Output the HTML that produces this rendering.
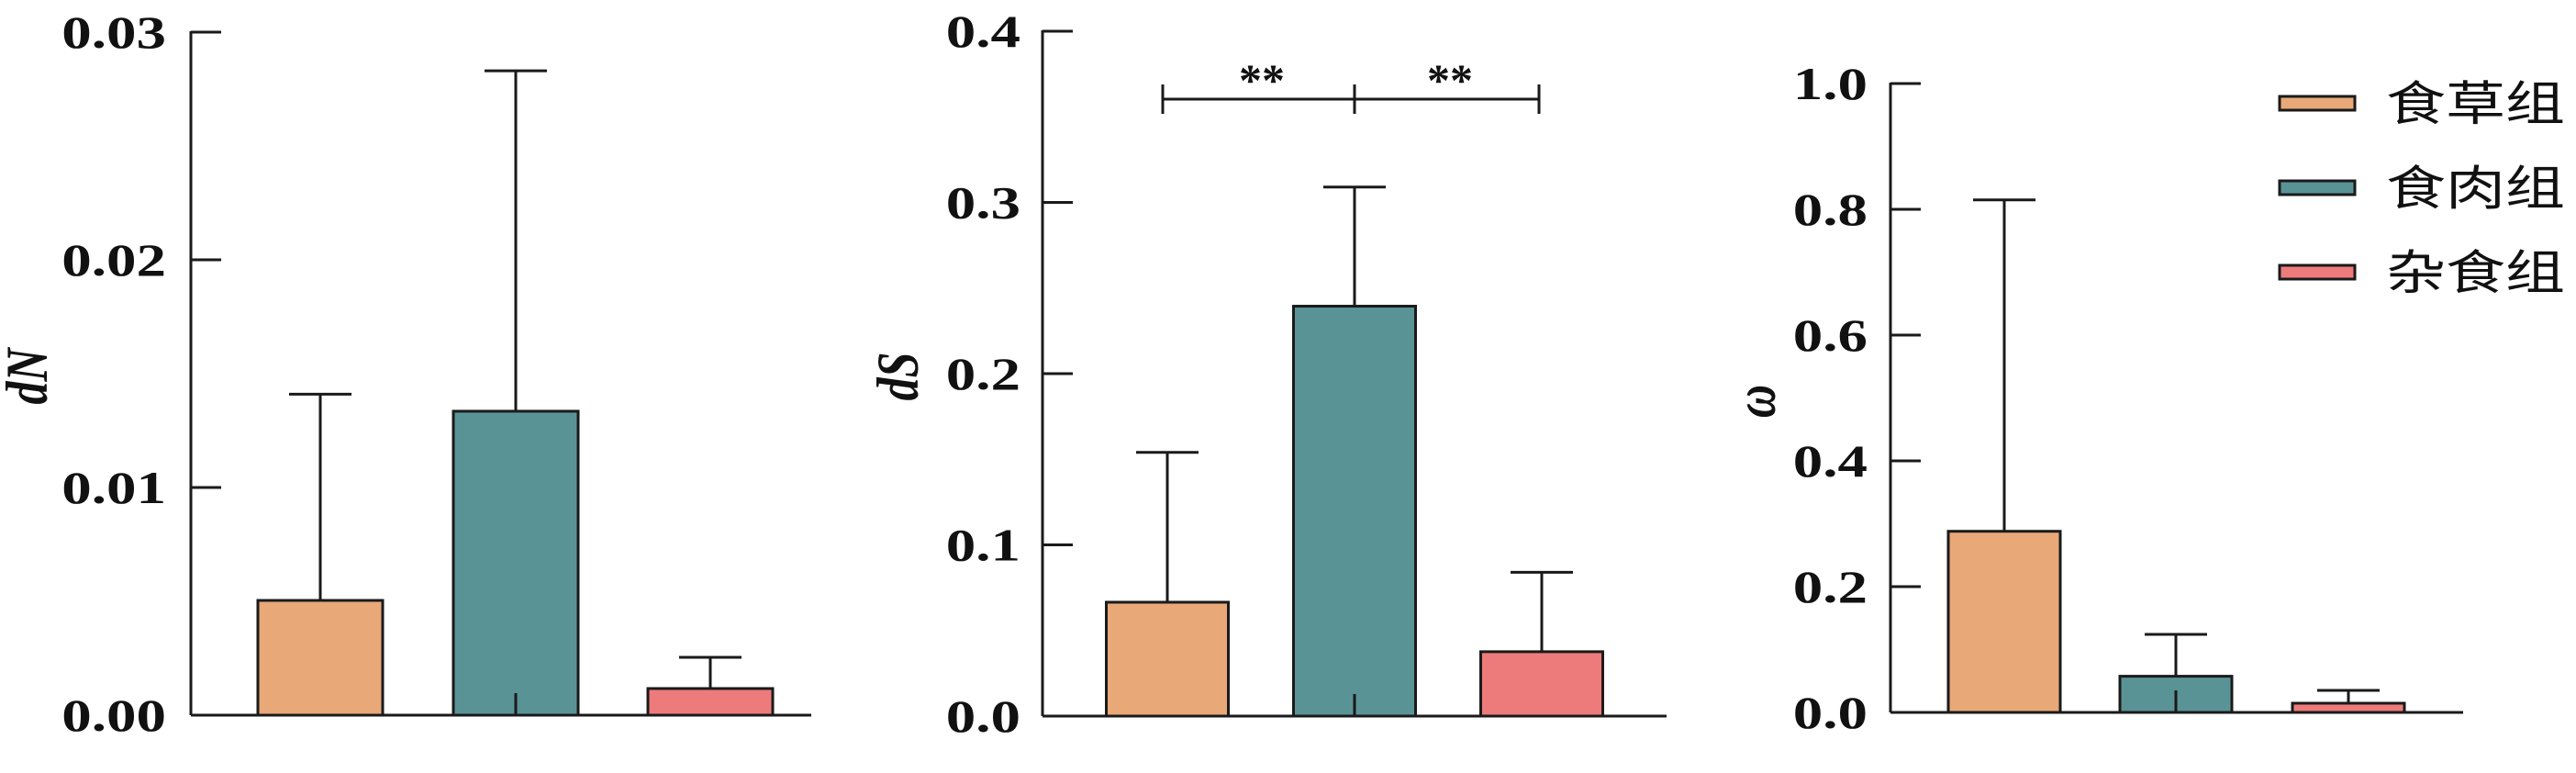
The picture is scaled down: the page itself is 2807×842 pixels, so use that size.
<!DOCTYPE html>
<html><head><meta charset="utf-8"><style>
html,body{margin:0;padding:0;background:#fff;}
svg{display:block;}
text{font-family:"Liberation Serif","Noto Serif CJK SC",serif;font-weight:bold;fill:#111;}
.cjk{font-family:"Liberation Sans","Noto Sans CJK SC",sans-serif;font-weight:normal;}
</style></head><body>
<svg id="chart" width="2807" height="842" viewBox="0 0 2807 842" xmlns="http://www.w3.org/2000/svg"></svg>
<script>
const categories = ["食草组","食肉组","杂食组"];
const colors = ["#E8A878","#5A9396","#EE7B7B"];
const dnValues = [0.00504, 0.01335, 0.00117];
const dnErrors = [0.0141, 0.0283, 0.00254];
const dnTicks = ["0.00","0.01","0.02","0.03"];
const dsValues = [0.0665, 0.2394, 0.0376];
const dsErrors = [0.154, 0.309, 0.084];
const dsTicks = ["0.0","0.1","0.2","0.3","0.4"];
const wValues = [0.288, 0.0575, 0.0146];
const wErrors = [0.815, 0.124, 0.035];
const wTicks = ["0.0","0.2","0.4","0.6","0.8","1.0"];

const NS="http://www.w3.org/2000/svg";
const svg=document.getElementById('chart');
function mk(tag,attrs,parent){const e=document.createElementNS(NS,tag);for(const k in attrs)e.setAttribute(k,attrs[k]);(parent||svg).appendChild(e);return e;}

const panels=[
 {name:"dn",title:"dN",values:dnValues,errors:dnErrors,ticks:dnTicks,max:0.03,ax:208,y0:779,y1:35,xEnd:884,centers:[349,562,774],bw:136,labR:181,titleX:36,titleY:410},
 {name:"ds",title:"dS",values:dsValues,errors:dsErrors,ticks:dsTicks,max:0.4,ax:1136,y0:780,y1:34,xEnd:1816,centers:[1272,1476,1680],bw:133,labR:1112,titleX:985,titleY:410},
 {name:"omega",title:"ω",values:wValues,errors:wErrors,ticks:wTicks,max:1.0,ax:2060,y0:776,y1:91,xEnd:2684,centers:[2184,2371,2559],bw:122,labR:2035,titleX:1919,titleY:437}
];

panels.forEach(p=>{
 const g=mk('g',{});
 
 
 const y=v=>p.y0-(v/p.max)*(p.y0-p.y1);
 // bars
 p.values.forEach((v,i)=>{
  const cx=p.centers[i];
  const eb=mk('g',{},g);
  
  
  mk('line',{x1:cx,x2:cx,y1:y(v),y2:y(p.errors[i]),stroke:'#1a1a1a','stroke-width':3},eb);
  mk('line',{x1:cx-34,x2:cx+34,y1:y(p.errors[i]),y2:y(p.errors[i]),stroke:'#1a1a1a','stroke-width':3},eb);
  const r=mk('rect',{x:cx-p.bw/2,y:y(v),width:p.bw,height:p.y0-y(v),fill:colors[i],stroke:'#1a1a1a','stroke-width':3},g);
  
  
 });
 // axes
 const ya=mk('line',{x1:p.ax,x2:p.ax,y1:p.y1-1,y2:p.y0,stroke:'#1a1a1a','stroke-width':3},g);
 
 
 const xa=mk('line',{x1:p.ax,x2:p.xEnd,y1:p.y0,y2:p.y0,stroke:'#1a1a1a','stroke-width':3},g);
 
 
 mk('line',{x1:p.centers[1],x2:p.centers[1],y1:p.y0-24,y2:p.y0,stroke:'#1a1a1a','stroke-width':3},g);
 p.ticks.forEach(t=>{
  const ty=y(parseFloat(t));
  mk('line',{x1:p.ax,x2:p.ax+33,y1:ty,y2:ty,stroke:'#1a1a1a','stroke-width':3},g);
  const tx=mk('text',{transform:`translate(${p.labR},${ty+17}) scale(1.3,1)`,'font-size':50,'text-anchor':'end'},g);
  tx.textContent=t;
  
  
 });
 const tt=mk('text',{transform:`translate(${p.titleX},${p.titleY}) rotate(-90) scale(1,1.3)`,'font-size':50,'font-style':'italic','text-anchor':'middle','dominant-baseline':'middle'},g);
 tt.textContent=p.title;
 
 
});

// significance bracket
const sg=mk('g',{});


mk('line',{x1:1267,x2:1677,y1:108,y2:108,stroke:'#1a1a1a','stroke-width':3},sg);
[1267,1476,1677].forEach(x=>mk('line',{x1:x,x2:x,y1:92,y2:124,stroke:'#1a1a1a','stroke-width':3},sg));
[1375,1580].forEach(x=>{const s=mk('text',{x:x,y:104,'font-size':50,'text-anchor':'middle','font-family':'Liberation Sans, sans-serif'},sg);s.textContent='**';});

// legend
categories.forEach((c,i)=>{
 const lg=mk('g',{});
 
 
 const cy=112+i*92;
 mk('rect',{x:2484,y:cy-7,width:82,height:15,fill:colors[i],stroke:'#1a1a1a','stroke-width':3},lg);
 const t=mk('text',{class:'cjk',transform:`translate(2600,${cy+19}) scale(1.25,1)`,'font-size':52},lg);
 t.textContent=c;
});
</script>
</body></html>
